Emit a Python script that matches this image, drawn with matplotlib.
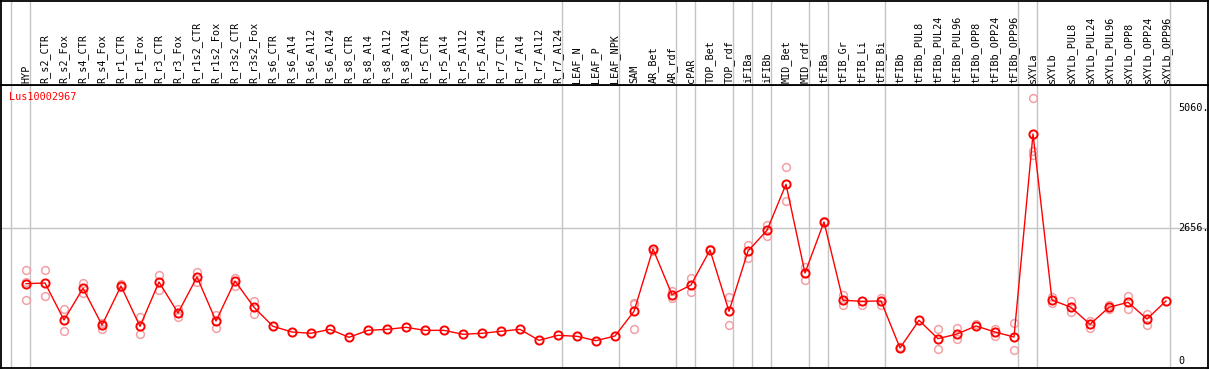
import matplotlib
matplotlib.use('Agg')
import matplotlib.pyplot as plt

categories = ["HYP", "R_s2_CTR", "R_s2_Fox", "R_s4_CTR", "R_s4_Fox", "R_r1_CTR", "R_r1_Fox",
              "R_r3_CTR", "R_r3_Fox", "R_r1s2_CTR", "R_r1s2_Fox", "R_r3s2_CTR", "R_r3s2_Fox",
              "R_s6_CTR", "R_s6_Al4", "R_s6_Al12", "R_s6_Al24", "R_s8_CTR", "R_s8_Al4",
              "R_s8_Al12", "R_s8_Al24", "R_r5_CTR", "R_r5_Al4", "R_r5_Al12", "R_r5_Al24",
              "R_r7_CTR", "R_r7_Al4", "R_r7_Al12", "R_r7_Al24", "LEAF_N", "LEAF_P", "LEAF_NPK",
              "SAM", "AR_Bet", "AR_rdf", "cPAR", "TOP_Bet", "TOP_rdf", "iFIBa", "iFIBb",
              "MID_Bet", "MID_rdf", "tFIBa", "tFIB_Gr", "tFIB_Li", "tFIB_Bi", "tFIBb",
              "tFIBb_PUL8", "tFIBb_PUL24", "tFIBb_PUL96", "tFIBb_OPP8", "tFIBb_OPP24",
              "tFIBb_OPP96", "sXYLa", "sXYLb", "sXYLb_PUL8", "sXYLb_PUL24", "sXYLb_PUL96",
              "sXYLb_OPP8", "sXYLb_OPP24", "sXYLb_OPP96"]

means = [1551, 1565, 827, 1459, 727, 1505, 701, 1585, 967, 1684, 807, 1605, 1080,
         701, 588, 562, 641, 482, 621, 641, 681, 621, 621, 542, 562, 602, 641, 422, 522,
         502, 415, 508,
         1000, 2242, 1332, 1525, 2222, 1000, 2202, 2615, 3532, 1764, 2781, 1220, 1200, 1206,
         270, 821, 455, 548, 708, 588, 488,
         4535, 1226, 1080, 741, 1080, 1180, 847, 1206]

replicates = [[1818, 1591, 1220], [1818, 1300], [1046, 602], [1571, 1359], [761, 654],
              [1545, 1475], [881, 542], [1724, 1419], [1053, 893], [1784, 1578], [933, 668],
              [1671, 1505], [1212, 953],
              [], [], [], [], [], [], [], [], [], [], [], [], [], [], [], [], [], [], [],
              [1160, 1140, 642], [2200], [1412, 1272], [1658, 1379], [2250], [1280, 722],
              [2316, 2069], [2721, 2508], [3871, 3193], [1877, 1618], [2800], [1319, 1133],
              [1133], [1272, 1133],
              [290], [], [648, 243], [674, 442], [740], [648, 508], [767, 223],
              [5252, 4202, 4116], [1160, 1280], [1200, 981], [814, 662], [1120, 1040],
              [1306, 1053], [953, 734], []]

group_ends = [-1, 0, 28, 31, 34, 35, 37, 38, 39, 41, 42, 45, 52, 53, 60]
y_marks = [5060, 2656, 0]
y_mark_labels = ["5060.", "2656.", "0"]
gene = "Lus10002967"

W, H = 1209, 370
fig = plt.figure(figsize=(W / 100, H / 100), dpi=100)
X0, DX = 26.0, 19.0
Y0, SY = 361.5, 0.05017


def px2x(p):
    return (p - X0) / DX


def py2v(p):
    return (Y0 - p) / SY


L, R = 1.0, 1208.0
ax = fig.add_axes([L / W, (H - 368) / H, (R - L) / W, (368 - 85) / H])
ax.set_xlim(px2x(L), px2x(R))
ax.set_ylim(py2v(368), py2v(85))
hax = fig.add_axes([L / W, (H - 85) / H, (R - L) / W, 84.3 / H])
hax.set_xlim(px2x(L), px2x(R))
hax.set_ylim(0, 84.3)

for a in (ax, hax):
    a.set_xticks([])
    a.set_yticks([])
    for s in a.spines.values():
        s.set_color('black')
        s.set_linewidth(1.3)

grid_c = '#c4c4c4'
for b in group_ends:
    ax.axvline(b + 4 / DX, color=grid_c, lw=1.0, zorder=0)
    hax.axvline(b + 4 / DX, color=grid_c, lw=1.0, zorder=0)
ax.axhline(2656, color=grid_c, lw=1.0, zorder=0)

font = dict(family='DejaVu Sans Mono', size=7.3)

for i, c in enumerate(categories):
    hax.text(i, 2.3, c, rotation=90, ha='center', va='bottom', **font)

for v, lab in zip(y_marks, y_mark_labels):
    ax.text(px2x(1178), v, lab, ha='left', va='center', **font)

ax.text(px2x(8.5), py2v(97), gene, color='red', ha='left', va='center', **font)

xs = list(range(len(categories)))
for i, reps in enumerate(replicates):
    if reps:
        ax.plot([i] * len(reps), reps, 'o', mfc='none', mec='#f2a0a6', ms=5.6, mew=1.1, zorder=2)
ax.plot(xs, means, '-', color='red', lw=1.0, zorder=3)
ax.plot(xs, means, 'o', mfc='none', mec='red', ms=5.9, mew=1.4, zorder=4)

fig.savefig('out.png', dpi=100)
